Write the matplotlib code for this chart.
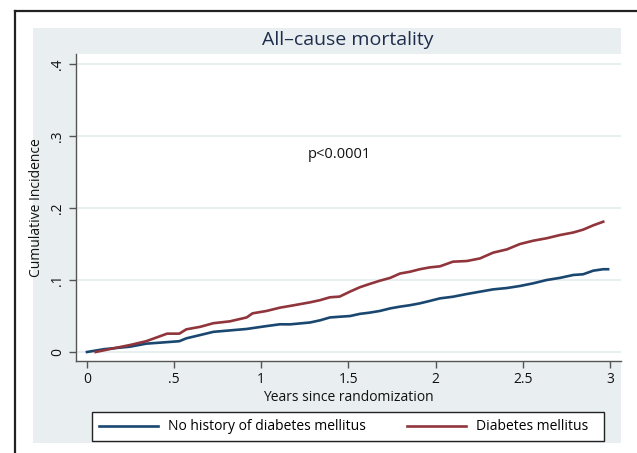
import matplotlib
matplotlib.use("Agg")
import matplotlib.pyplot as plt
from matplotlib.patches import Rectangle
from matplotlib.lines import Line2D

plt.rcParams['font.family'] = ['Open Sans', 'DejaVu Sans']

# Data (years since randomization, cumulative incidence)
years_nodm = [0.0, 0.10, 0.247, 0.34, 0.42, 0.53, 0.57, 0.65, 0.725, 0.82, 0.916, 1.03,
              1.107, 1.165, 1.28, 1.337, 1.394, 1.45, 1.51, 1.566, 1.62, 1.68, 1.74,
              1.796, 1.853, 1.91, 1.968, 2.025, 2.10, 2.18, 2.255, 2.33, 2.41, 2.484,
              2.56, 2.637, 2.714, 2.79, 2.847, 2.905, 2.962, 2.99]
inc_nodm = [0.0, 0.004, 0.0074, 0.0116, 0.013, 0.015, 0.019, 0.0236, 0.028, 0.030, 0.032,
            0.036, 0.0385, 0.0384, 0.041, 0.044, 0.048, 0.049, 0.050, 0.053, 0.0546,
            0.057, 0.0606, 0.063, 0.065, 0.0676, 0.071, 0.0745, 0.0768, 0.0806, 0.0838,
            0.087, 0.0889, 0.0917, 0.0954, 0.100, 0.103, 0.107, 0.108, 0.113, 0.115, 0.115]

years_dm = [0.05, 0.15, 0.247, 0.34, 0.42, 0.46, 0.53, 0.57, 0.65, 0.725, 0.82, 0.916,
            0.95, 1.03, 1.107, 1.165, 1.28, 1.337, 1.394, 1.45, 1.51, 1.566, 1.62, 1.68,
            1.74, 1.796, 1.853, 1.91, 1.968, 2.025, 2.10, 2.18, 2.255, 2.33, 2.41, 2.484,
            2.56, 2.637, 2.714, 2.79, 2.847, 2.905, 2.962]
inc_dm = [0.0, 0.005, 0.0097, 0.015, 0.022, 0.0255, 0.0255, 0.0315, 0.035, 0.040, 0.0426,
          0.048, 0.0537, 0.057, 0.0616, 0.064, 0.069, 0.072, 0.076, 0.077, 0.084, 0.090,
          0.0944, 0.099, 0.103, 0.109, 0.1115, 0.115, 0.1176, 0.119, 0.1255, 0.1264,
          0.130, 0.138, 0.1426, 0.150, 0.1546, 0.158, 0.1625, 0.166, 0.170, 0.176, 0.181]

x_ticks = [0, 0.5, 1, 1.5, 2, 2.5, 3]
x_ticklabels = ['0', '.5', '1', '1.5', '2', '2.5', '3']
y_ticks = [0, 0.1, 0.2, 0.3, 0.4]
y_ticklabels = ['0', '.1', '.2', '.3', '.4']
labels = ['No history of diabetes mellitus', 'Diabetes mellitus']
title = 'All\u2013cause mortality'
ptext = 'p<0.0001'

W, H = 637, 453
fig = plt.figure(figsize=(W / 100, H / 100), dpi=100)
fig.patch.set_facecolor('white')

def fx(px):
    return px / W

def fy(py):
    return 1 - py / H

bg = '#e9eff1'
# Stata graph region
fig.patches.append(Rectangle((fx(33), fy(443)), fx(621) - fx(33), fy(28) - fy(443),
                             transform=fig.transFigure, facecolor=bg, edgecolor='none', zorder=-5))
# outer black frame (top and left)
fig.lines.append(Line2D([fx(15), fx(637)], [fy(11), fy(11)], transform=fig.transFigure,
                        color='#222222', lw=1.6, zorder=-4))
fig.lines.append(Line2D([fx(15), fx(15)], [fy(11), fy(453)], transform=fig.transFigure,
                        color='#222222', lw=1.6, zorder=-4))
# legend box
fig.patches.append(Rectangle((fx(92), fy(441)), fx(604) - fx(92), fy(412) - fy(441),
                             transform=fig.transFigure, facecolor='white', edgecolor='#222222',
                             lw=1.0, zorder=-3))

ax = fig.add_axes([fx(76), fy(361), fx(621) - fx(76), fy(54) - fy(361)])
ax.set_zorder(1)
ax.set_facecolor('white')
navy = '#1a476f'
maroon = '#90353b'
ax.plot(years_nodm, inc_nodm, color=navy, lw=1.9, zorder=3)
ax.plot(years_dm, inc_dm, color=maroon, lw=1.9, zorder=3)

ax.set_xlim(-0.063, 3.064)
ax.set_ylim(-0.0125, 0.414)
ax.set_xticks(x_ticks)
ax.set_xticklabels(x_ticklabels)
ax.set_yticks(y_ticks)
ax.set_yticklabels(y_ticklabels, rotation=90, va='center')
ax.grid(axis='y', color='#e6eef0', lw=1.3)
ax.set_axisbelow(True)
for s in ['top', 'right']:
    ax.spines[s].set_visible(False)
for s in ['left', 'bottom']:
    ax.spines[s].set_color('#555555')
    ax.spines[s].set_linewidth(1.0)
ax.tick_params(axis='both', length=5, width=1.0, color='#555555', labelsize=10,
               labelcolor='#111111', pad=3)
ax.set_xlabel('Years since randomization', fontsize=10, color='#111111', labelpad=2)
ax.set_ylabel('Cumulative Incidence', fontsize=10, color='#111111', labelpad=4)
ax.text(1.45, 0.274, ptext, fontsize=10.5, color='#111111', ha='center', va='center')

fig.text(fx(348), fy(40), title, fontsize=14, color='#1f2d4d', ha='center', va='center')

handles = [Line2D([], [], color=navy, lw=1.9), Line2D([], [], color=maroon, lw=1.9)]
fs_px = 10 * 100 / 72
leg = fig.legend(handles, labels, loc='center left',
                 bbox_to_anchor=(fx(99), fy(427)),
                 ncol=2, fontsize=10, frameon=False,
                 handlelength=59 / fs_px, handletextpad=10 / fs_px,
                 columnspacing=41 / fs_px, borderaxespad=0, borderpad=0)

fig.savefig('out.png', dpi=100, facecolor='white')
